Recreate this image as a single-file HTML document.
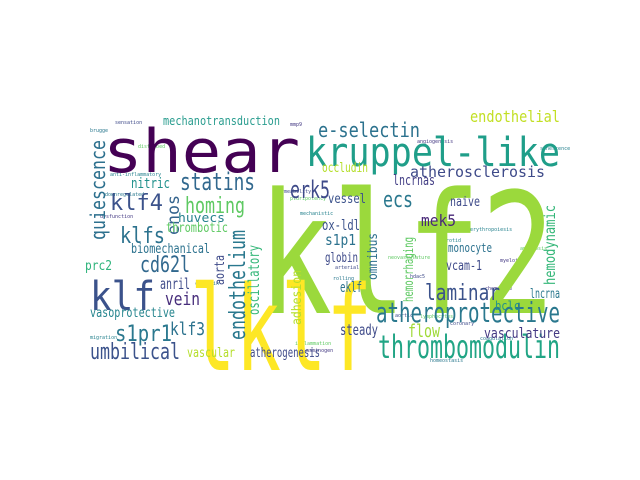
<!DOCTYPE html>
<html><head><meta charset="utf-8"><style>
html,body{margin:0;padding:0;background:#fff;width:640px;height:480px;overflow:hidden}
svg text{font-family:"DejaVu Sans Mono","Liberation Mono",monospace}
</style></head><body>
<svg id="wc" width="640" height="480" viewBox="0 0 640 480"></svg>
<script>
// word, left x, baseline y, font size, width (length), colour, vertical
const words = ["klf2","lklf","shear","kruppel-like","thrombomodulin","atheroprotective","klf","quiescence","e-selectin","endothelial","atherosclerosis","mechanotransduction","enos","statins","erk5","homing","klf4","klfs","nitric","huvecs","thrombotic","endothelium","oscillatory","adhesion","aorta","biomechanical","cd62l","prc2","anril","vein","vasoprotective","s1pr1","klf3","umbilical","vascular","atherogenesis","ecs","lncrnas","occludin","vessel","naive","mek5","ox-ldl","s1p1","hemodynamic","omnibus","hemorrhaging","globin","monocyte","vcam-1","laminar","lncrna","bclc","eklf","flow","steady","vasculature"];
const xs =   [258,190,103,306,378,376,90,105,318,470,410,163,179,180,290,185,110,120,131,178,166,245,259,301,224,131,140,85,160,165,90,115,170,90,187,250,383,393,322,328,450,421,322,325,555,377,413,325,448,446,425,530,495,340,408,340,484];
const ys =   [313,370,172,166,358,322,310,240,137,122,177,125,235,190,198,213,210,243,188,222,232,340,315,325,285,253,272,270,289,305,317,341,335,359,357,357,207,185,172,203,206,226,230,245,285,280,302,262,252,270,300,298,310,292,337,335,338];
const sizes =[168,118,60,40,32,28,40,20,20,16,15,12,17,24,24,22,22,22,14,12,13,22,15,13,13,13,22,13,15,18,13,22,18,22,13,13,22,14,13,13,13,16,14,15,15,13,13,13,12,13,22,13,12,14,18,15,14];
const lens = [297,182,197,254,182,184,65,100,102,90,135,117,40,75,40,60,53,45,39,47,62,110,70,55,30,79,50,27,30,35,85,57,35,90,48,70,30,42,46,38,30,35,38,31,80,47,65,33,44,36,75,30,25,22,32,38,76];
const cols = ["#9bd93c","#fde725","#440154","#1f9e89","#21a585","#2a788e","#3b528b","#2d708e","#2c728e","#c2df23","#3e4a89","#2a9d8f","#33638d","#31688e","#3e4a89","#5ec962","#3b528b","#2c728e","#21918c","#26828e","#5ec962","#2a788e","#35b779","#b5de2b","#3e4a89","#2c728e","#31688e","#2fb47c","#3e4a89","#472d7b","#25858e","#2a788e","#2c728e","#3b528b","#b5de2b","#3e4a89","#2a788e","#433e85","#b5de2b","#3b528b","#3e4a89","#482878","#3b528b","#2c728e","#35b779","#2d708e","#5ec962","#3e4a89","#2c728e","#3e4a89","#3b528b","#2a788e","#21918c","#2c728e","#a0da39","#3e4a89","#443983"];
const vert = [0,0,0,0,0,0,0,1,0,0,0,0,1,0,0,0,0,0,0,0,0,1,1,1,1,0,0,0,0,0,0,0,0,0,0,0,0,0,0,0,0,0,0,0,1,1,1,0,0,0,0,0,0,0,0,0,0];
// small filler words
const small = ["sensation","brugge","disturbed","mmp9","anti-inflammatory","permeability","downregulated","pluripotency","dysfunction","mechanistic","arterial","rolling","neovasculature","angiogenesis","erythropoiesis","coronary","coagulation","lymphocytes","chemokine","carotid","hdac5","homeostasis","inflammation","plasminogen","migration","aortic","caveolin","apoptosis","myeloid","senescence"];
const sx = [115,90,138,290,110,275,105,290,100,300,335,333,388,417,470,450,480,420,485,440,410,430,295,300,90,395,195,520,500,540];
const sy = [124,132,148,126,176,193,196,200,218,215,269,280,259,143,231,325,340,318,290,242,278,362,345,352,339,317,285,250,262,150];
const g = ["#3e4a89","#2a788e","#5ec962","#443983","#26828e"];
const svg = document.getElementById('wc');
const NS = 'http://www.w3.org/2000/svg';
for (let i = 0; i < small.length; i++) {
  const t = document.createElementNS(NS, 'text');
  
  
  t.setAttribute('x', sx[i]); t.setAttribute('y', sy[i]);
  t.setAttribute('font-size', 5);
  t.setAttribute('fill', g[i % g.length]);
  t.textContent = small[i];
  svg.appendChild(t);
}
for (let i = 0; i < words.length; i++) {
  const t = document.createElementNS(NS, 'text');
  
  
  t.setAttribute('font-size', sizes[i]);
  t.setAttribute('fill', cols[i]);
  t.setAttribute('textLength', lens[i]);
  t.setAttribute('lengthAdjust', 'spacingAndGlyphs');
  if (vert[i]) {
    t.setAttribute('x', 0); t.setAttribute('y', 0);
    t.setAttribute('transform', 'translate(' + xs[i] + ',' + ys[i] + ') rotate(-90)');
  } else {
    t.setAttribute('x', xs[i]); t.setAttribute('y', ys[i]);
  }
  t.textContent = words[i];
  svg.appendChild(t);
}
</script>
</body></html>
